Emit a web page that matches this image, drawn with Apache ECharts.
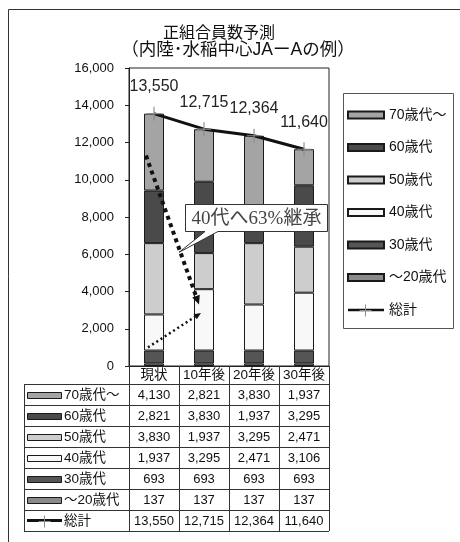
<!DOCTYPE html>
<html><head><meta charset="utf-8">
<script src="https://cdn.jsdelivr.net/npm/echarts@6/dist/echarts.min.js"></script>
<style>html,body{margin:0;padding:0;background:#fff}#c{width:460px;height:542px}</style>
</head><body><div id="c"></div>
<script>
// ---- data ----
const titleLine1 = '正組合員数予測';
const titleLine2 = '（内陸･水稲中心JAーAの例）';
const categories = ['現状', '10年後', '20年後', '30年後'];
const age20 = [137, 137, 137, 137];
const age30 = [693, 693, 693, 693];
const age40 = [1937, 3295, 2471, 3106];
const age50 = [3830, 1937, 3295, 2471];
const age60 = [2821, 3830, 1937, 3295];
const age70 = [4130, 2821, 3830, 1937];
const total = [13550, 12715, 12364, 11640];
const yMin = 0, yMax = 16000, yStep = 2000;
const calloutText = '40代へ63%継承';
// arrow anchor values
const thickArrow = { from: [0, 11300], to: [1, 3300] };
const thinArrow = { from: [0, 1000], to: [1, 2850] };

const stackSeries = [
  { name: '〜20歳代', data: age20, color: '#8a8a8a' },
  { name: '30歳代', data: age30, color: '#555555' },
  { name: '40歳代', data: age40, color: '#f8f8f8' },
  { name: '50歳代', data: age50, color: '#cdcdcd' },
  { name: '60歳代', data: age60, color: '#4a4a4a' },
  { name: '70歳代〜', data: age70, color: '#a4a4a4' }
];
const totalName = '総計';
const legendOrder = ['70歳代〜', '60歳代', '50歳代', '40歳代', '30歳代', '〜20歳代'];

const FONT = "'Liberation Sans','Noto Sans CJK JP',sans-serif";
const fmt = v => Number(v).toLocaleString('en-US');

// layout
const G = { left: 129, top: 68, width: 200, height: 298 };
const plusPath = 'path://M4.6,0H5.4V4.6H10V5.4H5.4V10H4.6V5.4H0V4.6H4.6Z';

const chart = echarts.init(document.getElementById('c'));

const series = stackSeries.map(s => ({
  name: s.name, type: 'bar', stack: 'all', barWidth: 20, data: s.data,
  itemStyle: { color: s.color, borderColor: '#1a1a1a', borderWidth: 1 },
  emphasis: { disabled: true }
}));
series.push({
  name: totalName, type: 'line', data: total, z: 10,
  symbol: plusPath, symbolSize: 14,
  lineStyle: { color: '#111', width: 3 },
  itemStyle: { color: '#8c8c8c' },
  label: { show: true, position: 'top', distance: 12, fontSize: 16, color: '#222', fontFamily: FONT, formatter: p => fmt(p.value) },
  emphasis: { disabled: true }
});

const legendData = legendOrder.map(n => ({ name: n, icon: 'rect' }));
legendData.push({ name: totalName, icon: 'path://M0,4.2H36V6.8H0Z', itemStyle: { color: '#111' } });

chart.setOption({
  animation: false,
  grid: { left: G.left, top: G.top, width: G.width, height: G.height, show: true, borderColor: '#222', borderWidth: 1 },
  xAxis: {
    type: 'category', data: categories,
    axisLine: { show: true, lineStyle: { color: '#222' } },
    axisTick: { show: true, length: 18, interval: 0, lineStyle: { color: '#333' } },
    axisLabel: { fontSize: 13.5, color: '#111', margin: 3, fontFamily: FONT, interval: 0 }
  },
  yAxis: {
    type: 'value', min: yMin, max: yMax, interval: yStep,
    axisLine: { show: true, lineStyle: { color: '#222' } },
    axisTick: { show: true, length: 4, lineStyle: { color: '#222' } },
    splitLine: { show: false },
    axisLabel: { fontSize: 13, color: '#111', margin: 15, fontFamily: FONT, formatter: v => fmt(v) }
  },
  legend: {
    orient: 'vertical', left: 347, top: 108, itemWidth: 36, itemHeight: 7, itemGap: 18.5,
    selectedMode: false, padding: 0,
    data: legendData,
    textStyle: { fontSize: 14, color: '#111', fontFamily: FONT, lineHeight: 14 }
  },
  series: series
});

// ---- graphics: frame, titles, legend box, table, annotations ----
const g = [];
g.push({ type: 'rect', shape: { x: 8.5, y: 9.5, width: 600, height: 700 }, style: { fill: 'none', stroke: '#333', lineWidth: 1 }, silent: true });
g.push({ type: 'rect', shape: { x: 343.5, y: 93.5, width: 110, height: 235 }, style: { fill: 'none', stroke: '#555', lineWidth: 1 }, silent: true });
g.push({ type: 'text', x: 219, y: 34, style: { text: titleLine1, fontSize: 16, fill: '#111', fontFamily: FONT, align: 'center', verticalAlign: 'middle' } });
g.push({ type: 'text', x: 238, y: 50, style: { text: titleLine2, fontSize: 17.5, fill: '#111', fontFamily: FONT, align: 'center', verticalAlign: 'middle' } });

function plus(cx, cy, r) {
  g.push({ type: 'line', z: 20, shape: { x1: cx, y1: cy - r, x2: cx, y2: cy + r }, style: { stroke: '#8c8c8c', lineWidth: 1 } });
  g.push({ type: 'line', z: 20, shape: { x1: cx - r, y1: cy, x2: cx + r, y2: cy }, style: { stroke: '#8c8c8c', lineWidth: 1 } });
}

// table
const tLeft = 24, tTop = G.top + G.height + 18, rowH = 21;
const colW = G.width / categories.length;
const rows = [
  { name: '70歳代〜', vals: age70, color: '#a4a4a4' },
  { name: '60歳代', vals: age60, color: '#4a4a4a' },
  { name: '50歳代', vals: age50, color: '#cdcdcd' },
  { name: '40歳代', vals: age40, color: '#f8f8f8' },
  { name: '30歳代', vals: age30, color: '#555555' },
  { name: '〜20歳代', vals: age20, color: '#8a8a8a' },
  { name: totalName, vals: total, line: true }
];
const tBottom = tTop + rowH * rows.length;
for (let i = 0; i <= rows.length; i++) {
  const y = Math.round(tTop + i * rowH) + 0.5;
  g.push({ type: 'line', shape: { x1: tLeft, y1: y, x2: G.left + G.width, y2: y }, style: { stroke: '#333', lineWidth: 1 }, silent: true });
}
const vxs = [tLeft, G.left];
for (let j = 1; j <= categories.length; j++) vxs.push(G.left + j * colW);
vxs.forEach(x => {
  const xx = Math.round(x) + 0.5;
  g.push({ type: 'line', shape: { x1: xx, y1: tTop, x2: xx, y2: tBottom }, style: { stroke: '#333', lineWidth: 1 }, silent: true });
});
rows.forEach((r, i) => {
  const cy = tTop + i * rowH + rowH / 2;
  if (r.line) {
    g.push({ type: 'line', shape: { x1: 27, y1: cy, x2: 62, y2: cy }, style: { stroke: '#111', lineWidth: 3 } });
    plus(44.5, Math.round(cy) + 0.5, 6);
  } else {
    g.push({ type: 'rect', shape: { x: 27.5, y: Math.round(cy - 3) + 0.5, width: 34, height: 6 }, style: { fill: r.color, stroke: '#1a1a1a', lineWidth: 1 } });
  }
  g.push({ type: 'text', x: 64, y: cy + 1, style: { text: r.name, fontSize: 13.5, fill: '#111', fontFamily: FONT, verticalAlign: 'middle' } });
  r.vals.forEach((v, j) => {
    g.push({ type: 'text', x: G.left + colW * (j + 0.5), y: cy + 1, style: { text: fmt(v), fontSize: 13, fill: '#111', fontFamily: FONT, align: 'center', verticalAlign: 'middle' } });
  });
});

// plus marker on legend line icon
plus(365.5, 310.5, 6);

// annotations
function px(c, v, dx) { const p = chart.convertToPixel({ gridIndex: 0 }, [c, v]); return [p[0] + dx, p[1]]; }
function arrow(a, b, w, dash, headLen, headW) {
  const dx = b[0] - a[0], dy = b[1] - a[1], L = Math.hypot(dx, dy), ux = dx / L, uy = dy / L;
  const base = [b[0] - ux * headLen, b[1] - uy * headLen];
  g.push({ type: 'line', z: 50, shape: { x1: a[0], y1: a[1], x2: base[0], y2: base[1] }, style: { stroke: '#111', lineWidth: w, lineDash: dash } });
  g.push({ type: 'polygon', z: 50, shape: { points: [b, [base[0] - uy * headW / 2, base[1] + ux * headW / 2], [base[0] + uy * headW / 2, base[1] - ux * headW / 2]] }, style: { fill: '#111' } });
}
arrow(px(thickArrow.from[0], thickArrow.from[1], -8), px(thickArrow.to[0], thickArrow.to[1], -5), 4, [4, 4], 9, 8);
arrow(px(thinArrow.from[0], thinArrow.from[1], -6), px(thinArrow.to[0], thinArrow.to[1], -3), 2.5, [2, 3], 7, 6);

const bx1 = 185.5, by1 = 204.5, bx2 = 327.5, by2 = 231.5;
const tip = px(0, 6100, 25);
g.push({ type: 'polygon', z: 60, shape: { points: [[bx1, by1], [bx2, by1], [bx2, by2], [218, by2], tip, [205, by2], [bx1, by2]] }, style: { fill: '#fff', stroke: '#333', lineWidth: 1 } });
g.push({ type: 'text', z: 61, x: (bx1 + bx2) / 2, y: (by1 + by2) / 2 + 1, style: { text: calloutText, fontSize: 19, fill: '#444', fontFamily: "'Liberation Serif','Noto Sans CJK JP',serif", align: 'center', verticalAlign: 'middle' } });

chart.setOption({ graphic: g });
</script>
</body></html>
